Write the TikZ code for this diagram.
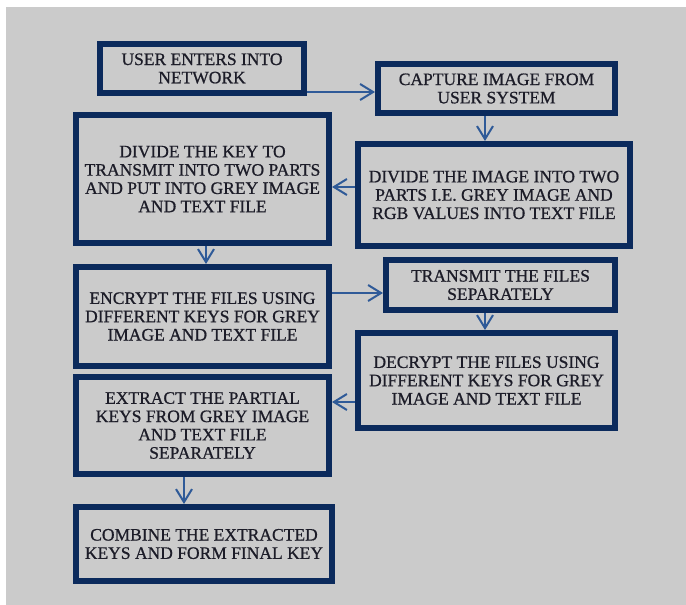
\documentclass[tikz,border=0pt]{standalone}
\usepackage{fontspec}
\setmainfont{Liberation Serif}[FakeBold=0.8]
\usetikzlibrary{arrows.meta}
\definecolor{boxblue}{HTML}{0B2A5C}
\definecolor{arrowblue}{HTML}{2F5A98}
\definecolor{bggrey}{HTML}{CBCBCB}
\definecolor{textdark}{HTML}{1C1C28}
\begin{document}
\begin{tikzpicture}[x=1pt,y=-1pt]
\tikzstyle{mybox}=[draw=boxblue,line width=6pt,rectangle,inner sep=0pt,align=center,text=textdark,font=\fontsize{17.5}{18.3}\selectfont]
\tikzstyle{myarrow}=[draw=arrowblue,line width=2pt,-{Straight Barb[length=13pt,width=16pt]}]

\useasboundingbox (0,0) rectangle (686,605);
\fill[bggrey] (6,7) rectangle (686,605);

\node[mybox,minimum width=204pt,minimum height=49pt] (user) at (202,68.5) {USER ENTERS INTO\\NETWORK};
\node[mybox,minimum width=237pt,minimum height=49pt] (capture) at (496.5,88.5) {CAPTURE IMAGE FROM\\USER SYSTEM};
\node[mybox,minimum width=253pt,minimum height=128pt] (divkey) at (202.5,179) {DIVIDE THE KEY TO\\TRANSMIT INTO TWO PARTS\\AND PUT INTO GREY IMAGE\\AND TEXT FILE};
\node[mybox,minimum width=272pt,minimum height=102pt] (divimg) at (494,195) {DIVIDE THE IMAGE INTO TWO\\PARTS I.E. GREY IMAGE AND\\RGB VALUES INTO TEXT FILE};
\node[mybox,minimum width=253pt,minimum height=99pt] (encrypt) at (202.5,316.5) {ENCRYPT THE FILES USING\\DIFFERENT KEYS FOR GREY\\IMAGE AND TEXT FILE};
\node[mybox,minimum width=229pt,minimum height=50pt] (transmit) at (500.5,285) {TRANSMIT THE FILES\\SEPARATELY};
\node[mybox,minimum width=257pt,minimum height=95pt] (decrypt) at (486.5,380.5) {DECRYPT THE FILES USING\\DIFFERENT KEYS FOR GREY\\IMAGE AND TEXT FILE};
\node[mybox,minimum width=253pt,minimum height=97pt] (extract) at (202.5,425.5) {EXTRACT THE PARTIAL\\KEYS FROM GREY IMAGE\\AND TEXT FILE\\SEPARATELY};
\node[mybox,minimum width=256pt,minimum height=74pt] (combine) at (204,544) {COMBINE THE EXTRACTED\\KEYS AND FORM FINAL KEY};

\coordinate (a1) at ([yshift=-3.5pt]capture.west);
\coordinate (a2) at ([xshift=-11.5pt]capture.south);
\coordinate (a3) at ([xshift=3.5pt]divkey.south);
\coordinate (a4) at ([yshift=8pt]divimg.west);
\coordinate (a5) at ([yshift=-8pt]transmit.west);
\coordinate (a6) at ([xshift=-15.5pt]transmit.south);
\coordinate (a7) at ([yshift=-21.5pt]decrypt.west);
\coordinate (a8) at ([xshift=-18.5pt]extract.south);

\draw [myarrow] (a1 -| user.east) -- (a1);
\draw [myarrow] (a2) -- (a2 |- divimg.north);
\draw [myarrow] (a3) -- (a3 |- encrypt.north);
\draw [myarrow] (a4) -- (a4 -| divkey.east);
\draw [myarrow] (a5 -| encrypt.east) -- (a5);
\draw [myarrow] (a6) -- (a6 |- decrypt.north);
\draw [myarrow] (a7) -- (a7 -| extract.east);
\draw [myarrow] (a8) -- (a8 |- combine.north);

\end{tikzpicture}
\end{document}
